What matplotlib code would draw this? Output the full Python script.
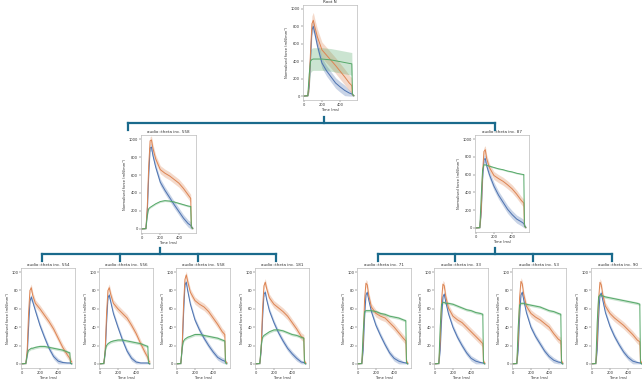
import numpy as np
import matplotlib.pyplot as plt

# temps commun (ms)
t = [0, 45, 60, 75, 90, 105, 120, 150, 200, 250, 300, 350, 400, 450, 500, 528, 535, 550]

# noeud racine (echelle 0-1000)
root_blue = [0, 5, 120, 450, 760, 800, 730, 580, 380, 290, 220, 150, 105, 65, 35, 25, 15, 5]
root_orange = [0, 5, 150, 520, 830, 870, 800, 680, 530, 470, 410, 350, 285, 220, 150, 120, 15, 5]
root_green = [0, 5, 250, 400, 420, 425, 425, 425, 425, 420, 415, 405, 395, 385, 375, 370, 20, 5]
root_spread = [60, 90, 130]

# niveau 1
ml_blue = [0, 5, 200, 600, 900, 910, 820, 690, 520, 430, 350, 270, 195, 120, 60, 40, 25, 10]
ml_orange = [0, 5, 250, 700, 980, 990, 900, 780, 660, 620, 590, 550, 510, 450, 380, 340, 20, 5]
ml_green = [0, 5, 150, 225, 240, 250, 260, 280, 305, 315, 310, 300, 285, 270, 255, 250, 15, 5]
ml_spread = [40, 45, 10]

mr_blue = [0, 5, 180, 550, 770, 780, 700, 600, 470, 370, 290, 210, 150, 100, 70, 50, 30, 10]
mr_orange = [0, 5, 200, 620, 860, 880, 780, 680, 590, 555, 525, 485, 440, 380, 310, 280, 20, 5]
mr_green = [0, 5, 350, 650, 710, 710, 705, 695, 680, 665, 655, 640, 630, 615, 605, 600, 20, 5]
mr_spread = [45, 45, 8]

# niveau 2 (echelle 0-100)
b1_blue = [0, 0.5, 10, 40, 68, 73, 68, 58, 42, 29, 17, 8, 3, 1.5, 1, 1, 0.5, 0]
b1_orange = [0, 0.5, 15, 55, 80, 83, 75, 66, 60, 53, 46, 38, 28, 18, 10, 6, 4, 2]
b1_green = [0, 0.5, 10, 15, 16, 17, 17, 18, 19, 19, 18, 17, 16, 15, 13, 12, 1, 0]

b2_blue = [0, 0.5, 12, 45, 72, 75, 68, 55, 40, 26, 14, 6, 2, 1, 1, 1, 0.5, 0]
b2_orange = [0, 0.5, 15, 55, 80, 83, 76, 66, 60, 55, 50, 42, 33, 22, 12, 7, 4, 2]
b2_green = [0, 0.5, 14, 20, 22, 23, 24, 25, 26, 26, 25, 24, 23, 22, 20, 19, 1, 0]

b3_blue = [0, 0.5, 18, 55, 86, 89, 80, 65, 48, 37, 28, 20, 13, 7, 4, 3, 2, 1]
b3_orange = [0, 0.5, 20, 65, 92, 97, 90, 78, 69, 65, 62, 57, 50, 43, 35, 32, 3, 1]
b3_green = [0, 0.5, 18, 25, 27, 28, 29, 30, 32, 32, 31, 30, 29, 28, 26, 25, 1, 0]

b4_blue = [0, 0.5, 15, 50, 76, 78, 70, 58, 45, 34, 25, 17, 11, 6, 2, 1.5, 1, 0]
b4_orange = [0, 0.5, 18, 60, 85, 89, 82, 72, 65, 61, 57, 52, 45, 38, 30, 28, 3, 1]
b4_green = [0, 0.5, 20, 29, 31, 32, 33, 35, 37, 37, 36, 34, 32, 31, 29, 28, 1, 0]

b5_blue = [0, 0.5, 15, 50, 75, 78, 70, 57, 42, 31, 21, 12, 6, 3, 1.5, 1, 1, 0]
b5_orange = [0, 0.5, 25, 70, 88, 86, 75, 62, 55, 52, 50, 45, 40, 34, 28, 25, 3, 1]
b5_green = [0, 0.5, 35, 57, 58, 58, 58, 58, 57, 55, 54, 52, 51, 50, 48, 47, 1, 0]

b6_blue = [0, 0.5, 15, 48, 73, 76, 68, 55, 40, 29, 20, 12, 6, 3, 1.5, 1, 1, 0]
b6_orange = [0, 0.5, 25, 70, 87, 85, 74, 61, 52, 48, 45, 40, 35, 30, 25, 22, 3, 1]
b6_green = [0, 0.5, 40, 65, 67, 67, 66, 66, 65, 63, 61, 59, 58, 56, 55, 54, 1, 0]

b7_blue = [0, 0.5, 15, 50, 75, 78, 70, 56, 40, 30, 22, 14, 8, 4, 2, 1.5, 1, 0]
b7_orange = [0, 0.5, 25, 72, 90, 87, 76, 63, 55, 51, 48, 44, 40, 33, 27, 25, 3, 1]
b7_green = [0, 0.5, 40, 64, 66, 66, 66, 65, 64, 63, 62, 60, 58, 57, 55, 54, 1, 0]

b8_blue = [0, 0.5, 15, 50, 75, 77, 70, 56, 41, 30, 21, 13, 7, 3, 1.5, 1, 1, 0]
b8_orange = [0, 0.5, 25, 70, 89, 86, 76, 63, 55, 50, 46, 42, 37, 32, 26, 24, 3, 1]
b8_green = [0, 0.5, 45, 73, 75, 75, 74, 73, 72, 71, 70, 69, 68, 67, 66, 65, 1, 0]
bottom_spread = [3, 4, 1.5]

titles = ["Root N", "audio::theta inc. 558", "audio::theta inc. 87",
          "audio::theta inc. 554", "audio::theta inc. 556", "audio::theta inc. 558", "audio::theta inc. 181",
          "audio::theta inc. 71", "audio::theta inc. 33", "audio::theta inc. 53", "audio::theta inc. 90"]

couleurs = ["#4c72b0", "#dd8452", "#55a868"]
W, H = 642, 381

fig = plt.figure(figsize=(W / 100, H / 100), dpi=100)


def boite(x0, y0, x1, y1):
    # pixels (origine en haut a gauche) -> fraction de figure
    return [x0 / W, 1 - y1 / H, (x1 - x0) / W, (y1 - y0) / H]


def panneau(rect, series, spread, titre, grand):
    ax = fig.add_axes(boite(*rect))
    for s, sp, c in zip(series, spread, couleurs):
        s = np.array(s, dtype=float)
        bande = np.minimum(sp, s)
        ax.fill_between(t, s - bande, s + bande, color=c, alpha=0.3, lw=0)
        ax.plot(t, s, color=c, lw=0.7)
    ax.set_xlim(-8, 585)
    if grand:
        ax.set_ylim(-45, 1045)
        ax.set_yticks([0, 200, 400, 600, 800, 1000])
    else:
        ax.set_ylim(-4.5, 104.5)
        ax.set_yticks([0, 20, 40, 60, 80, 100])
    ax.set_xticks([0, 200, 400])
    ax.tick_params(labelsize=2.6, length=1.2, width=0.3, pad=0.8, colors="#333333")
    for sp_ in ax.spines.values():
        sp_.set_color("#bbbbbb")
        sp_.set_linewidth(0.5)
    ax.set_title(titre, fontsize=3, pad=1.5, color="#333333")
    ax.set_xlabel("Time (ms)", fontsize=2.6, labelpad=0.8, color="#333333")
    ax.set_ylabel("Normalised force (mN/mm²)", fontsize=2.6, labelpad=1, color="#333333")
    return ax


panneau((303, 5, 357, 100), [root_blue, root_orange, root_green], root_spread, titles[0], True)
panneau((141, 135, 196, 233), [ml_blue, ml_orange, ml_green], ml_spread, titles[1], True)
panneau((475, 135, 529, 232), [mr_blue, mr_orange, mr_green], mr_spread, titles[2], True)

bas = [(b1_blue, b1_orange, b1_green), (b2_blue, b2_orange, b2_green),
       (b3_blue, b3_orange, b3_green), (b4_blue, b4_orange, b4_green),
       (b5_blue, b5_orange, b5_green), (b6_blue, b6_orange, b6_green),
       (b7_blue, b7_orange, b7_green), (b8_blue, b8_orange, b8_green)]
gauches = [21, 99, 176, 255, 357, 434, 512, 591]
for i, (g, ser) in enumerate(zip(gauches, bas)):
    panneau((g, 268, g + 54, 368), list(ser), bottom_spread, titles[3 + i], False)

# liens de l'arbre
lien = fig.add_axes([0, 0, 1, 1], zorder=-1)
lien.set_xlim(0, W)
lien.set_ylim(H, 0)
lien.axis("off")
bleu = "#1a6a8c"
lw = 1.6
lien.plot([324, 324], [117, 123], color=bleu, lw=lw)
lien.plot([128, 495], [123, 123], color=bleu, lw=lw)
for x in [128, 495]:
    lien.plot([x, x], [123, 130], color=bleu, lw=lw)
for xs, xc in [([42, 120, 198, 276], 160), ([378, 455, 533, 612], 495)]:
    lien.plot([xc, xc], [248, 254], color=bleu, lw=lw)
    lien.plot([xs[0], xs[-1]], [254, 254], color=bleu, lw=lw)
    for x in xs:
        lien.plot([x, x], [254, 261], color=bleu, lw=lw)

fig.savefig("out.png", dpi=100)
